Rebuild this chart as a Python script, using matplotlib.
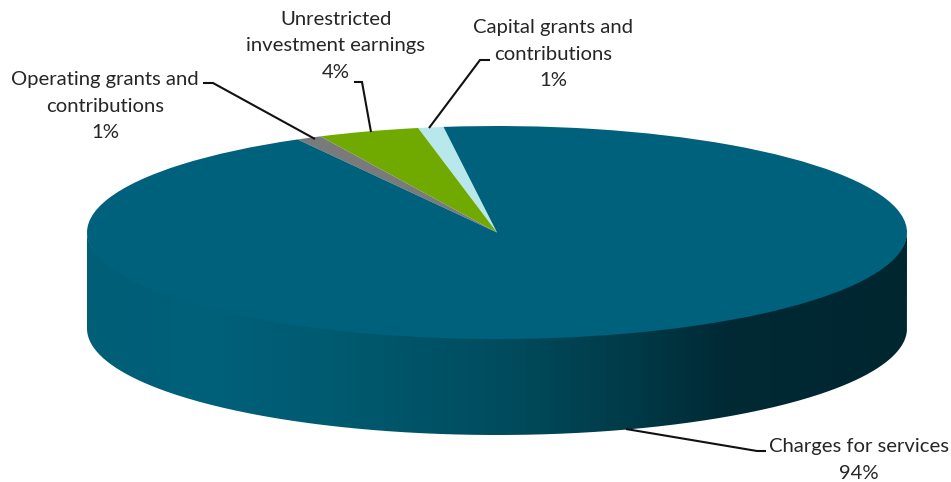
import numpy as np
import matplotlib
matplotlib.use("Agg")
import matplotlib.pyplot as plt
from matplotlib.colors import LinearSegmentedColormap
from matplotlib.patches import PathPatch
from matplotlib.path import Path
from matplotlib.transforms import Affine2D

plt.rcParams["font.family"] = ["Lato", "DejaVu Sans"]

# Revenue shares, in drawing order counter-clockwise from the start angle
categories = ["Capital grants and\ncontributions",
              "Unrestricted\ninvestment earnings",
              "Operating grants and\ncontributions",
              "Charges for services"]
shares = [1, 4, 1, 94]
slice_colors = ["#b9e8ec", "#70aa00", "#7a7a7a", "#00617c"]

# Disc geometry in pixels
CX, CY, RX, RY, DEPTH = 497, 232.5, 410, 106.5, 96

fig = plt.figure(figsize=(9.51, 4.82), dpi=100)
ax = fig.add_axes([0, 0, 1, 1])

wedges, _ = ax.pie(shares, colors=slice_colors, startangle=97.5,
                   radius=1, center=(0, 0), counterclock=True)
ax.set_aspect("auto")
ax.axis("off")

# Tilt the flat pie into an ellipse
tilt = Affine2D().scale(RX, -RY).translate(CX, CY) + ax.transData
for w in wedges:
    w.set_transform(tilt)
    w.set_linewidth(0)
    w.set_zorder(3)

# Side wall: lower half of the rim swept downward, shaded left to right
theta = np.linspace(np.pi, 2 * np.pi, 300)
rim_x = CX + RX * np.cos(theta)
rim_y = CY - RY * np.sin(theta)
wall_xy = np.r_[np.c_[rim_x, rim_y - 1], np.c_[rim_x[::-1], rim_y[::-1] + DEPTH]]
wall = PathPatch(Path(np.r_[wall_xy, wall_xy[:1]]), fc="none", ec="none",
                 transform=ax.transData)
ax.add_patch(wall)

shade = LinearSegmentedColormap.from_list("wall", [
    (0.00, "#005e77"), (0.15, "#00607a"), (0.30, "#005a70"),
    (0.50, "#004d5f"), (0.65, "#003c4a"), (0.78, "#002a35"),
    (1.00, "#002630")])
img = ax.imshow(np.linspace(0, 1, 512)[None, :], cmap=shade, aspect="auto",
                extent=[CX - RX, CX + RX, CY + RY + DEPTH + 2, CY - 2],
                zorder=2)
img.set_clip_path(wall)
ax.set_xlim(0, 951)
ax.set_ylim(482, 0)

# Leader lines from each label to its slice
leaders = [
    ([490, 480, 429], [60, 60, 128]),
    ([354, 362, 371], [82, 82, 132]),
    ([203, 213, 315], [83, 83, 139]),
    ([766, 757, 626], [451, 451, 429]),
]
for xs, ys in leaders:
    ax.plot(xs, ys, color="#111111", lw=1.5, zorder=4,
            solid_capstyle="butt", solid_joinstyle="miter")

# Category and percentage labels
label_pos = [(553, 54), (336, 46), (105, 106), (859, 460)]
for name, share, (x, y) in zip(categories, shares, label_pos):
    ax.text(x, y, f"{name}\n{share}%", ha="center", va="center",
            fontsize=14.6, color="#262626", linespacing=1.68, zorder=5)

fig.savefig("out.png", dpi=100)
